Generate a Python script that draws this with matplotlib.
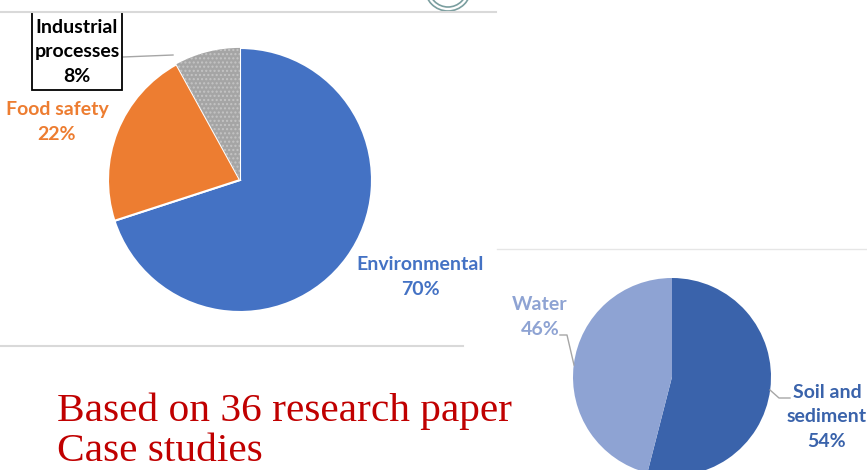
import matplotlib
matplotlib.use("Agg")
import matplotlib.pyplot as plt
from matplotlib.patches import Circle, Rectangle

# Data
app_labels = ['Environmental', 'Food safety', 'Industrial\nprocesses']
app_values = [70, 22, 8]
app_colors = ['#4472C4', '#ED7D31', '#A5A5A5']

matrix_labels = ['Soil and\nsediment', 'Water']
matrix_values = [54, 46]
matrix_colors = ['#3A63AB', '#8EA3D3']

note_lines = ['Based on 36 research paper', 'Case studies']

W, H = 867, 470
fig = plt.figure(figsize=(W / 100, H / 100), dpi=100)
ax = fig.add_axes([0, 0, 1, 1])

def yy(y):
    # image row -> data y
    return H - y

# pie 1
wedges, _ = ax.pie(app_values, colors=app_colors, startangle=90, counterclock=False,
                   center=(240, yy(180)), radius=132, frame=True,
                   explode=[0, 0, 0.09],
                   wedgeprops=dict(edgecolor='white', linewidth=1.5))
wedges[2].set_hatch('....')
wedges[2].set_edgecolor('#C4C4C4')
wedges[2].set_linewidth(0)

# pie 2
ax.pie(matrix_values, colors=matrix_colors, startangle=90, counterclock=False,
       center=(672, yy(377)), radius=99, frame=True,
       wedgeprops=dict(edgecolor='none'))

ax.set_xlim(0, W)
ax.set_ylim(0, H)
ax.axis('off')

lab = dict(family=['Lato', 'DejaVu Sans'], fontweight='bold', fontsize=14,
           ha='center', va='center', linespacing=1.55)

# labels pie 1
ax.add_patch(Rectangle((32, yy(90)), 90, 78, fc='white', ec='black', lw=1.3, zorder=3))
ax.text(77, yy(52), 'Industrial\nprocesses\n8%', color='black', zorder=4, **lab)
ax.plot([123, 173], [yy(57), yy(55)], color='#A6A6A6', lw=1)
ax.text(57, yy(122), 'Food safety\n22%', color=app_colors[1], **lab)
ax.text(420, yy(277), 'Environmental\n70%', color=app_colors[0], **lab)

# labels pie 2
ax.text(540, yy(317), 'Water\n46%', color=matrix_colors[1], **lab)
ax.plot([560, 567, 574], [yy(335), yy(335), yy(365)], color='#A6A6A6', lw=1)
ax.text(827, yy(417), 'Soil and\nsediment\n54%', color=matrix_colors[0], **lab)
ax.plot([770, 779, 790], [yy(390), yy(398), yy(398)], color='#A6A6A6', lw=1)

# separator lines
ax.plot([0, 496], [yy(12), yy(12)], color='#D9D9D9', lw=1.5, zorder=5)
ax.plot([0, 463], [yy(346), yy(346)], color='#D9D9D9', lw=1.5)
ax.plot([497, 867], [yy(249), yy(249)], color='#E6E6E6', lw=1)

# partial logo at top
for r in (23, 19):
    ax.add_patch(Circle((448, yy(-12)), r, fill=False, ec='#7A9E9F', lw=1.2))

for line, base in zip(note_lines, [421, 461]):
    ax.text(57, yy(base), line, color='#C00000', fontsize=29.8,
            family=['Liberation Serif', 'DejaVu Serif'], ha='left', va='baseline')

fig.savefig('out.png', dpi=100, facecolor='white')
